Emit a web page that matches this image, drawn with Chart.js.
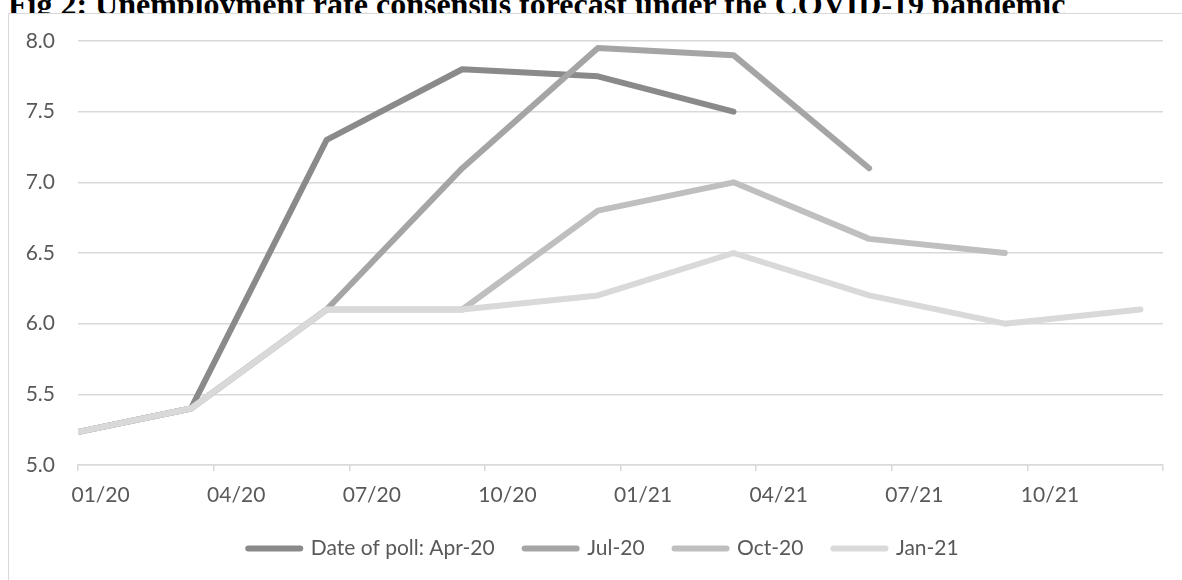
<!DOCTYPE html>
<html>
<head>
<meta charset="utf-8">
<script src="https://cdn.jsdelivr.net/npm/chart.js@4.4.1/dist/chart.umd.min.js"></script>
<style>
  html, body { margin: 0; padding: 0; background: #fff; width: 1182px; height: 580px; overflow: hidden; position: relative; }
  #title { position: absolute; left: 8px; top: -14px; font: bold 32px "Liberation Serif", "Times New Roman", serif; color: #000; white-space: nowrap; line-height: 36px; }
  #frame { position: absolute; left: 8px; top: 13px; width: 1400px; height: 800px; border: 1px solid #d9d9d9; background: #fff; }
  #wrap { position: absolute; left: 0; top: 0; width: 1182px; height: 620px; }
</style>
</head>
<body>
<div id="title">Fig 2: Unemployment rate consensus forecast under the COVID-19 pandemic</div>
<div id="frame"></div>
<div id="wrap"><canvas id="chart"></canvas></div>
<script>
// Forecast periods (quarter-end months, MM/YY) and axis labels
const periods = ['12/19', '03/20', '06/20', '09/20', '12/20', '03/21', '06/21', '09/21', '12/21'];
const tickLabels = ['01/20', '04/20', '07/20', '10/20', '01/21', '04/21', '07/21', '10/21'];

// Consensus unemployment-rate forecasts (%) by poll date
const seriesNames = ['Date of poll: Apr-20', 'Jul-20', 'Oct-20', 'Jan-21'];
const pollApr20 = [5.2, 5.4, 7.3, 7.8, 7.75, 7.5, null, null, null];
const pollJul20 = [5.2, 5.4, 6.1, 7.1, 7.95, 7.9, 7.1, null, null];
const pollOct20 = [5.2, 5.4, 6.1, 6.1, 6.8, 7.0, 6.6, 6.5, null];
const pollJan21 = [5.2, 5.4, 6.1, 6.1, 6.2, 6.5, 6.2, 6.0, 6.1];

const seriesColors = ['#8a8a8a', '#a5a5a5', '#bfbfbf', '#d9d9d9'];

// month slots counted from Jan 2020; a point sits in the middle of its month
function monthPos(label) {
  const [mm, yy] = label.split('/').map(Number);
  return (yy - 20) * 12 + (mm - 1) + 0.5;
}

const allSeries = [pollApr20, pollJul20, pollOct20, pollJan21];
const datasets = allSeries.map((vals, k) => ({
  label: seriesNames[k],
  data: periods.map((p, i) => ({ x: monthPos(p), y: vals[i] })),
  borderColor: seriesColors[k],
  backgroundColor: seriesColors[k],
  borderWidth: 6,
  borderCapStyle: 'round',
  borderJoinStyle: 'round',
  pointRadius: 0,
  pointHoverRadius: 0,
  tension: 0,
  clip: { left: 0, top: 10, right: 10, bottom: 10 },
  order: allSeries.length - k   // later polls are drawn on top
}));

const FONT = { family: 'Lato, "Noto Sans", sans-serif', size: 21 };
const TEXT = '#595959';
const GRID = '#d9d9d9';

// nudges the legend row so it is centred under the plot rather than the canvas
const legendOffset = {
  id: 'legendOffset',
  afterLayout(chart, args, opts) {
    const lg = chart.legend;
    if (lg) { lg.left += opts.dx; lg.right += opts.dx; }
  }
};

new Chart(document.getElementById('chart'), {
  type: 'line',
  data: { datasets },
  plugins: [legendOffset],
  options: {
    responsive: true,
    maintainAspectRatio: false,
    animation: false,
    events: [],
    layout: { padding: { left: 0, right: 19, top: 41, bottom: 51 } },
    plugins: {
      title: { display: false },
      tooltip: { enabled: false },
      legendOffset: { dx: 22 },
      legend: {
        position: 'bottom',
        labels: {
          color: TEXT,
          font: FONT,
          padding: 30,
          usePointStyle: true,
          pointStyleWidth: 52,
          sort: (a, b) => a.datasetIndex - b.datasetIndex,
          generateLabels(chart) {
            const items = Chart.defaults.plugins.legend.labels.generateLabels(chart);
            items.forEach(it => {
              const ds = chart.data.datasets[it.datasetIndex];
              it.pointStyle = 'line';
              it.strokeStyle = ds.borderColor;
              it.lineWidth = 6;
              it.lineCap = 'round';
            });
            return items;
          }
        }
      }
    },
    scales: {
      x: {
        type: 'linear',
        min: 0,
        max: 24,
        afterFit: s => { s.height = 43; },
        grid: { drawOnChartArea: false, drawTicks: true, tickLength: 6, color: GRID, lineWidth: 1.5 },
        border: { display: true, color: GRID, width: 1.5 },
        ticks: {
          stepSize: 3,
          autoSkip: false,
          maxRotation: 0,
          labelOffset: 22.6,
          padding: 12,
          color: TEXT,
          font: FONT,
          callback: (v, i) => tickLabels[i] ?? ''
        }
      },
      y: {
        min: 5,
        max: 8,
        afterFit: s => { s.width = 78; },
        grid: { drawTicks: false, color: GRID, lineWidth: 1.5 },
        border: { display: false },
        ticks: {
          stepSize: 0.5,
          padding: 23,
          color: TEXT,
          font: FONT,
          callback: v => v.toFixed(1)
        }
      }
    }
  }
});
</script>
</body>
</html>
